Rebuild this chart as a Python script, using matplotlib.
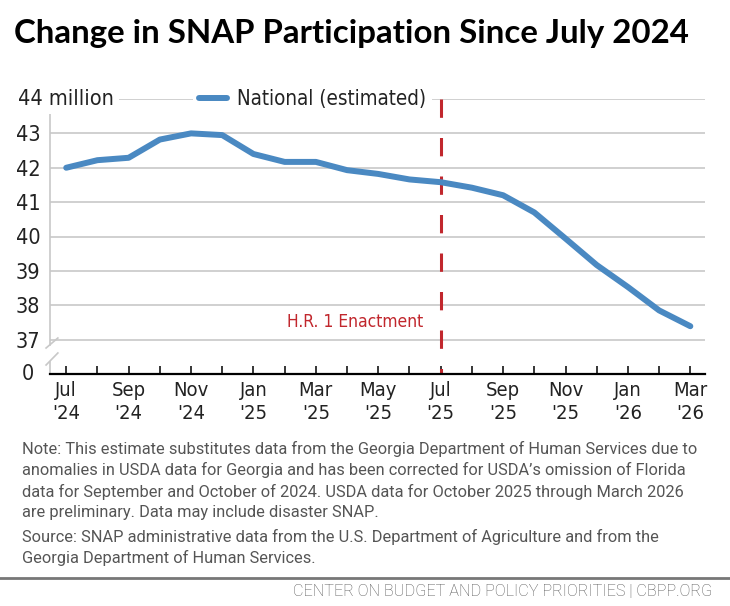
import matplotlib.pyplot as plt
from matplotlib.transforms import blended_transform_factory

# SNAP participation, millions
months = ['Jul', 'Aug', 'Sep', 'Oct', 'Nov', 'Dec',
          'Jan', 'Feb', 'Mar', 'Apr', 'May', 'Jun',
          'Jul', 'Aug', 'Sep', 'Oct', 'Nov', 'Dec',
          'Jan', 'Feb', 'Mar']
years = ["'24"] * 6 + ["'25"] * 12 + ["'26"] * 3
national = [42.00, 42.22, 42.29, 42.82, 43.00, 42.95,
            42.40, 42.17, 42.17, 41.93, 41.82, 41.66,
            41.58, 41.42, 41.20, 40.70, 39.94, 39.17,
            38.53, 37.85, 37.39]
ytick_vals = [37, 38, 39, 40, 41, 42, 43]
enactment_idx = 12

narrow = ['DejaVu Sans']
plain = ['Roboto', 'DejaVu Sans']
cond = dict(family=narrow, stretch='condensed')

W, H = 730, 606
fig = plt.figure(figsize=(W / 100, H / 100), dpi=100)
fig.patch.set_facecolor('white')

def fx(px):
    return px / W

def fy(py):
    return 1 - py / H

ax = fig.add_axes([fx(50), fy(374), fx(705) - fx(50), fy(99) - fy(374)])
x = list(range(len(national)))

ax.plot(x, national, color='#4a89c2', lw=4.3, solid_capstyle='round',
        solid_joinstyle='round', zorder=4, label='National (estimated)')

# enactment marker
vl, = ax.plot([enactment_idx, enactment_idx], [44, 36], color='#c1272d', lw=2.2, zorder=3)
vl.set_dashes((6, 6.6))
ax.text(enactment_idx - 0.55, 37.5, 'H.R. 1 Enactment', color='#c1272d',
        fontsize=12.5, ha='right', va='center', **cond)

ax.set_xlim(-0.52, 20.47)
ax.set_ylim(36, 44)

for v in ytick_vals + [44]:
    ax.axhline(v, color='#c8c8c8', lw=1.2, zorder=1)

ax.set_yticks(ytick_vals)
ax.set_yticklabels([str(v) for v in ytick_vals], fontsize=15.5, color='#222222', **cond)
ax.tick_params(axis='y', length=0, pad=7)

ax.set_xticks(x)
ax.set_xticklabels([f'{m}\n{y}' if i % 2 == 0 else '' for i, (m, y) in enumerate(zip(months, years))],
                   fontsize=14.5, color='#222222', linespacing=1.25, **cond)
ax.tick_params(axis='x', direction='in', length=5.5, width=1.1, color='black', pad=5)

for s in ['top', 'right', 'left']:
    ax.spines[s].set_visible(False)
ax.spines['bottom'].set_color('black')
ax.spines['bottom'].set_linewidth(1.6)
ax.spines['bottom'].set_zorder(5)

# broken left axis
yt = ax.get_yaxis_transform()
ax.plot([0, 0], [36, 36.35], color='#c8c8c8', lw=1.2, transform=yt, clip_on=False)
ax.plot([0, 0], [36.85, 44], color='#c8c8c8', lw=1.2, transform=yt, clip_on=False)
ax.plot([-0.006, 0.012], [0.0945, 0.1309], color='#c8c8c8', lw=1.2,
        transform=ax.transAxes, clip_on=False)
ax.plot([-0.006, 0.012], [0.0327, 0.0764], color='#c8c8c8', lw=1.2,
        transform=ax.transAxes, clip_on=False)

bt = blended_transform_factory(fig.transFigure, ax.transData)
ax.text(fx(28), 36, '0', transform=bt, fontsize=15.5, color='#222222',
        ha='center', va='center', **cond)
ax.text(fx(18), 44, '44 million', transform=bt, fontsize=15.5, color='#222222',
        ha='left', va='center', zorder=6,
        bbox=dict(boxstyle='square,pad=0.25', facecolor='white', edgecolor='none'), **cond)

leg = ax.legend(loc='center left', bbox_to_anchor=(fx(193), fy(99)),
                bbox_transform=fig.transFigure, frameon=True, fancybox=False,
                borderpad=0.3, borderaxespad=0, handlelength=1.35, handletextpad=0.5,
                prop={'family': narrow, 'stretch': 'condensed', 'size': 14.8})
leg.get_frame().set_facecolor('white')
leg.get_frame().set_edgecolor('none')
leg.get_frame().set_alpha(1)
leg.set_zorder(6)
for t in leg.get_texts():
    t.set_color('#222222')

# title and notes
fig.text(fx(14), fy(34), 'Change in SNAP Participation Since July 2024',
         fontsize=23.8, fontweight='bold', family=['Lato', 'DejaVu Sans'],
         ha='left', va='center', color='black')

note = ('Note: This estimate substitutes data from the Georgia Department of Human Services due to\n'
        'anomalies in USDA data for Georgia and has been corrected for USDA\u2019s omission of Florida\n'
        'data for September and October of 2024. USDA data for October 2025 through March 2026\n'
        'are preliminary. Data may include disaster SNAP.')
source = ('Source: SNAP administrative data from the U.S. Department of Agriculture and from the\n'
          'Georgia Department of Human Services.')
fig.text(fx(22), fy(441), note, fontsize=11.8, family=plain, color='#555555',
         ha='left', va='top', linespacing=1.42)
fig.text(fx(22), fy(529), source, fontsize=11.8, family=plain, color='#555555',
         ha='left', va='top', linespacing=1.42)

fig.add_artist(plt.Line2D([0, 1], [fy(577.5), fy(577.5)], transform=fig.transFigure,
                          color='#777777', lw=2))
fig.text(fx(712), fy(592), 'CENTER ON BUDGET AND POLICY PRIORITIES | CBPP.ORG',
         fontsize=11.7, family=plain, fontweight='light', color='#555555', ha='right', va='center')

fig.savefig('out.png', dpi=100, facecolor='white')
